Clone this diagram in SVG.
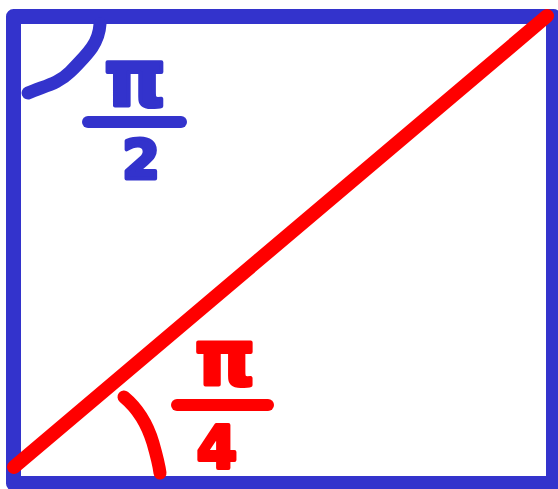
<svg xmlns="http://www.w3.org/2000/svg" width="558" height="489" viewBox="0 0 558 489">
<style>
.blue{stroke:#3333cc;fill:none;stroke-linecap:round;stroke-linejoin:round}
.red{stroke:#ff0000;fill:none;stroke-linecap:round;stroke-linejoin:round}
.tb{fill:#3333cc;stroke:#3333cc;stroke-width:4;stroke-linejoin:round;font-family:"DejaVu Sans",sans-serif;font-weight:bold;text-anchor:middle}
.tr{fill:#ff0000;stroke:#ff0000;stroke-width:4;stroke-linejoin:round;font-family:"DejaVu Sans",sans-serif;font-weight:bold;text-anchor:middle}
</style>
<rect width="558" height="489" fill="#ffffff"/>
<g id="rectangle">
<rect class="blue" x="13.5" y="16.5" width="540" height="467" stroke-width="15"/>
</g>
<g id="connectors">
<line class="red" x1="14" y1="467" x2="547" y2="16" stroke-width="14"/>
</g>
<g id="angle-top">
<path class="blue" d="M100,24 C99,42 90,52 70,72 C58,84 44,86 28,93" stroke-width="13"/>
<text class="tb" x="135" y="106" font-size="78">π</text>
<line class="blue" x1="88" y1="122" x2="181" y2="122" stroke-width="12"/>
<text class="tb" x="141" y="178" font-size="54">2</text>
</g>
<g id="angle-bottom">
<path class="red" d="M124,397 C136,407 147,423 153,443 C157,457 159,465 160,473" stroke-width="13"/>
<text class="tr" x="225" y="385" font-size="76">π</text>
<line class="red" x1="177" y1="405" x2="268" y2="405" stroke-width="12"/>
<text class="tr" x="217" y="468" font-size="58">4</text>
</g>
</svg>
